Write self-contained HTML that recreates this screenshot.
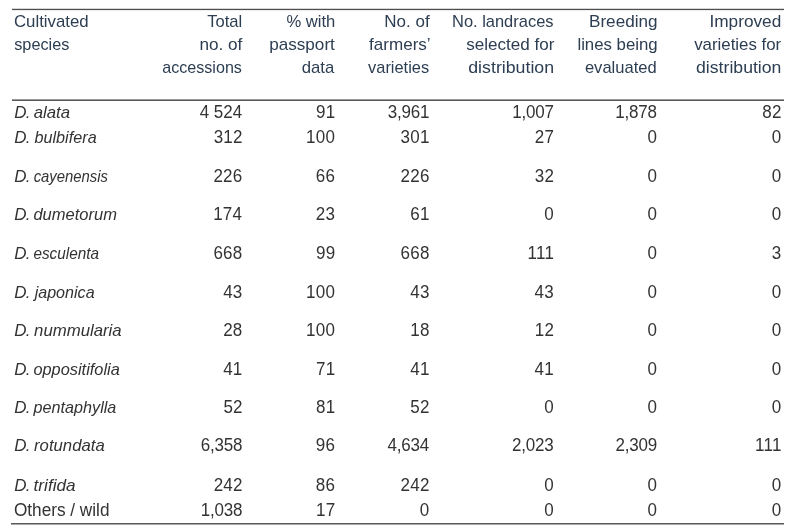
<!DOCTYPE html>
<html lang="en"><head><meta charset="utf-8"><title>Dioscorea accessions table</title>
<style>
html,body{margin:0;padding:0;background:#fff;}
body{width:800px;height:530px;position:relative;overflow:hidden;font-family:"Liberation Sans",sans-serif;font-size:17px;line-height:20px;color:#333;}
.ln{position:absolute;height:1px;}
table,thead,tbody,tr,th,td{display:block;margin:0;padding:0;border:0;font-weight:normal;}
.t{position:absolute;display:block;white-space:nowrap;height:20px;transform-origin:0 0;}
.s{display:inline-block;transform-origin:0 0;letter-spacing:0;}
.h{color:#2d3e52;font-size:17px;}
.i{font-style:italic;}
.n{font-size:17.5px;}

</style></head><body>
<div class="ln" style="top:8px;left:12px;width:772px;background:#d6d6d6"></div>
<div class="ln" style="top:9px;left:12px;width:772px;background:#4e4e4e"></div>
<div class="ln" style="top:10px;left:12px;width:772px;background:#ececec"></div>
<div class="ln" style="top:99px;left:12px;width:772px;background:#9a9a9a"></div>
<div class="ln" style="top:100px;left:12px;width:772px;background:#585858"></div>
<div class="ln" style="top:523px;left:11px;width:773px;background:#5a5a5a"></div>
<div class="ln" style="top:524px;left:11px;width:773px;background:#a8a8a8"></div>
<table>
<thead><tr>
<th><span class="t h" style="left:13px;top:12px;transform:translateX(0.95px) scaleX(0.9890)">Cultivated</span> <span class="t h" style="left:14px;top:35px;transform:translateX(0.20px) scaleX(0.9571)">species</span></th>
<th><span class="t h" style="left:207px;top:12px;transform:translateX(0.25px) scaleX(0.9752)">Total</span> <span class="t h" style="left:199px;top:35px;transform:translateX(0.40px) scaleX(1.0103)">no. of</span> <span class="t h" style="left:162px;top:58px;transform:translateX(0.25px) scaleX(0.9472)">accessions</span></th>
<th><span class="t h" style="left:286px;top:12px;transform:translateX(0.40px) scaleX(0.9774)">% with</span> <span class="t h" style="left:269px;top:35px;transform:translateX(0.20px) scaleX(1.0067)">passport</span> <span class="t h" style="left:301px;top:58px;transform:translateX(0.75px) scaleX(0.9824)">data</span></th>
<th><span class="t h" style="left:384px;top:12px;transform:translateX(0.30px) scaleX(0.9989)">No. of</span> <span class="t h" style="left:369px;top:35px;transform:translateX(0.05px) scaleX(1.0032)">farmers’</span> <span class="t h" style="left:368px;top:58px;transform:translateX(0.05px) scaleX(0.9652)">varieties</span></th>
<th><span class="t h" style="left:452px;top:12px;transform:translateX(0.00px) scaleX(0.9677)">No. landraces</span> <span class="t h" style="left:466px;top:35px;transform:translateX(0.25px) scaleX(1.0038)">selected for</span> <span class="t h" style="left:468px;top:58px;transform:translateX(0.25px) scaleX(1.0444)">distribution</span></th>
<th><span class="t h" style="left:589px;top:12px;transform:translateX(0.00px) scaleX(1.0073)">Breeding</span> <span class="t h" style="left:577px;top:35px;transform:translateX(0.40px) scaleX(0.9874)">lines being</span> <span class="t h" style="left:584px;top:58px;transform:translateX(0.90px) scaleX(0.9736)">evaluated</span></th>
<th><span class="t h" style="left:709px;top:12px;transform:translateX(0.40px) scaleX(1.0147)">Improved</span> <span class="t h" style="left:694px;top:35px;transform:translateX(0.15px) scaleX(0.9908)">varieties for</span> <span class="t h" style="left:696px;top:58px;transform:translateX(0.05px) scaleX(1.0385)">distribution</span></th>
</tr></thead>
<tbody>
<tr><td><span class="t i" style="left:14.15px;top:103px;letter-spacing:-0.600px">D. <span class="s" style="transform:translateX(-0.35px) scaleX(0.9882)">alata</span></span></td><td><span class="t n" style="left:199px;top:102px;transform:translateX(0.65px) scaleX(0.9710)">4 524</span></td><td><span class="t n" style="left:316px;top:102px;transform:translateX(0.10px) scaleX(0.9710);letter-spacing:0.278px">91</span></td><td><span class="t n" style="left:387px;top:102px;transform:translateX(0.80px) scaleX(0.9710);letter-spacing:-0.206px">3,961</span></td><td><span class="t n" style="left:512px;top:102px;transform:translateX(0.25px) scaleX(0.9710);letter-spacing:-0.206px">1,007</span></td><td><span class="t n" style="left:615px;top:102px;transform:translateX(0.20px) scaleX(0.9710);letter-spacing:-0.206px">1,878</span></td><td><span class="t n" style="left:762px;top:102px;transform:translateX(0.25px) scaleX(0.9710);letter-spacing:0.278px">82</span></td></tr>
<tr><td><span class="t i" style="left:14.15px;top:128px;letter-spacing:-0.600px">D. <span class="s" style="transform:translateX(0.45px) scaleX(0.9542)">bulbifera</span></span></td><td><span class="t n" style="left:213px;top:127px;transform:translateX(0.65px) scaleX(0.9710);letter-spacing:0.278px">312</span></td><td><span class="t n" style="left:306px;top:127px;transform:translateX(0.10px) scaleX(0.9710);letter-spacing:0.278px">100</span></td><td><span class="t n" style="left:400px;top:127px;transform:translateX(0.55px) scaleX(0.9710);letter-spacing:0.278px">301</span></td><td><span class="t n" style="left:534px;top:127px;transform:translateX(0.75px) scaleX(0.9710);letter-spacing:0.278px">27</span></td><td><span class="t n" style="left:647px;top:127px;transform:translateX(0.45px) scaleX(0.9710);letter-spacing:0.278px">0</span></td><td><span class="t n" style="left:771px;top:127px;transform:translateX(0.75px) scaleX(0.9710);letter-spacing:0.278px">0</span></td></tr>
<tr><td><span class="t i" style="left:14.15px;top:167px;letter-spacing:-0.600px">D. <span class="s" style="transform:translateX(-0.35px) scaleX(0.8745)">cayenensis</span></span></td><td><span class="t n" style="left:213px;top:166px;transform:translateX(0.40px) scaleX(0.9710);letter-spacing:0.278px">226</span></td><td><span class="t n" style="left:315px;top:166px;transform:translateX(0.85px) scaleX(0.9710);letter-spacing:0.278px">66</span></td><td><span class="t n" style="left:400px;top:166px;transform:translateX(0.55px) scaleX(0.9710);letter-spacing:0.278px">226</span></td><td><span class="t n" style="left:534px;top:166px;transform:translateX(0.75px) scaleX(0.9710);letter-spacing:0.278px">32</span></td><td><span class="t n" style="left:647px;top:166px;transform:translateX(0.45px) scaleX(0.9710);letter-spacing:0.278px">0</span></td><td><span class="t n" style="left:771px;top:166px;transform:translateX(0.75px) scaleX(0.9710);letter-spacing:0.278px">0</span></td></tr>
<tr><td><span class="t i" style="left:14.15px;top:205px;letter-spacing:-0.600px">D. <span class="s" style="transform:translateX(-0.60px) scaleX(0.9720)">dumetorum</span></span></td><td><span class="t n" style="left:213px;top:204px;transform:translateX(0.15px) scaleX(0.9710);letter-spacing:0.278px">174</span></td><td><span class="t n" style="left:315px;top:204px;transform:translateX(0.85px) scaleX(0.9710);letter-spacing:0.278px">23</span></td><td><span class="t n" style="left:410px;top:204px;transform:translateX(0.30px) scaleX(0.9710);letter-spacing:0.278px">61</span></td><td><span class="t n" style="left:544px;top:204px;transform:translateX(0.25px) scaleX(0.9710);letter-spacing:0.278px">0</span></td><td><span class="t n" style="left:647px;top:204px;transform:translateX(0.45px) scaleX(0.9710);letter-spacing:0.278px">0</span></td><td><span class="t n" style="left:771px;top:204px;transform:translateX(0.75px) scaleX(0.9710);letter-spacing:0.278px">0</span></td></tr>
<tr><td><span class="t i" style="left:14.15px;top:244px;letter-spacing:-0.600px">D. <span class="s" style="transform:translateX(-0.60px) scaleX(0.9017)">esculenta</span></span></td><td><span class="t n" style="left:213px;top:243px;transform:translateX(0.40px) scaleX(0.9710);letter-spacing:0.278px">668</span></td><td><span class="t n" style="left:316px;top:243px;transform:translateX(0.10px) scaleX(0.9710);letter-spacing:0.278px">99</span></td><td><span class="t n" style="left:400px;top:243px;transform:translateX(0.55px) scaleX(0.9710);letter-spacing:0.278px">668</span></td><td><span class="t n" style="left:527px;top:243px;transform:translateX(0.50px) scaleX(0.9710);letter-spacing:0.278px">111</span></td><td><span class="t n" style="left:647px;top:243px;transform:translateX(0.45px) scaleX(0.9710);letter-spacing:0.278px">0</span></td><td><span class="t n" style="left:771px;top:243px;transform:translateX(0.75px) scaleX(0.9710);letter-spacing:0.278px">3</span></td></tr>
<tr><td><span class="t i" style="left:14.15px;top:283px;letter-spacing:-0.600px">D. <span class="s" style="transform:translateX(0.65px) scaleX(0.9465)">japonica</span></span></td><td><span class="t n" style="left:223px;top:282px;transform:translateX(0.15px) scaleX(0.9710);letter-spacing:0.278px">43</span></td><td><span class="t n" style="left:306px;top:282px;transform:translateX(0.10px) scaleX(0.9710);letter-spacing:0.278px">100</span></td><td><span class="t n" style="left:410px;top:282px;transform:translateX(0.30px) scaleX(0.9710);letter-spacing:0.278px">43</span></td><td><span class="t n" style="left:534px;top:282px;transform:translateX(0.50px) scaleX(0.9710);letter-spacing:0.278px">43</span></td><td><span class="t n" style="left:647px;top:282px;transform:translateX(0.45px) scaleX(0.9710);letter-spacing:0.278px">0</span></td><td><span class="t n" style="left:771px;top:282px;transform:translateX(0.75px) scaleX(0.9710);letter-spacing:0.278px">0</span></td></tr>
<tr><td><span class="t i" style="left:14.15px;top:321px;letter-spacing:-0.600px">D. <span class="s" style="transform:translateX(0.05px) scaleX(0.9865)">nummularia</span></span></td><td><span class="t n" style="left:223px;top:320px;transform:translateX(0.15px) scaleX(0.9710);letter-spacing:0.278px">28</span></td><td><span class="t n" style="left:306px;top:320px;transform:translateX(0.10px) scaleX(0.9710);letter-spacing:0.278px">100</span></td><td><span class="t n" style="left:410px;top:320px;transform:translateX(0.30px) scaleX(0.9710);letter-spacing:0.278px">18</span></td><td><span class="t n" style="left:534px;top:320px;transform:translateX(0.75px) scaleX(0.9710);letter-spacing:0.278px">12</span></td><td><span class="t n" style="left:647px;top:320px;transform:translateX(0.45px) scaleX(0.9710);letter-spacing:0.278px">0</span></td><td><span class="t n" style="left:771px;top:320px;transform:translateX(0.75px) scaleX(0.9710);letter-spacing:0.278px">0</span></td></tr>
<tr><td><span class="t i" style="left:14.15px;top:360px;letter-spacing:-0.600px">D. <span class="s" style="transform:translateX(-0.60px) scaleX(0.9619)">oppositifolia</span></span></td><td><span class="t n" style="left:223px;top:359px;transform:translateX(0.15px) scaleX(0.9710);letter-spacing:0.278px">41</span></td><td><span class="t n" style="left:316px;top:359px;transform:translateX(0.10px) scaleX(0.9710);letter-spacing:0.278px">71</span></td><td><span class="t n" style="left:410px;top:359px;transform:translateX(0.30px) scaleX(0.9710);letter-spacing:0.278px">41</span></td><td><span class="t n" style="left:534px;top:359px;transform:translateX(0.50px) scaleX(0.9710);letter-spacing:0.278px">41</span></td><td><span class="t n" style="left:647px;top:359px;transform:translateX(0.45px) scaleX(0.9710);letter-spacing:0.278px">0</span></td><td><span class="t n" style="left:771px;top:359px;transform:translateX(0.75px) scaleX(0.9710);letter-spacing:0.278px">0</span></td></tr>
<tr><td><span class="t i" style="left:14.15px;top:398px;letter-spacing:-0.600px">D. <span class="s" style="transform:translateX(-0.45px) scaleX(0.9524)">pentaphylla</span></span></td><td><span class="t n" style="left:223px;top:397px;transform:translateX(0.40px) scaleX(0.9710);letter-spacing:0.278px">52</span></td><td><span class="t n" style="left:316px;top:397px;transform:translateX(0.10px) scaleX(0.9710);letter-spacing:0.278px">81</span></td><td><span class="t n" style="left:410px;top:397px;transform:translateX(0.30px) scaleX(0.9710);letter-spacing:0.278px">52</span></td><td><span class="t n" style="left:544px;top:397px;transform:translateX(0.25px) scaleX(0.9710);letter-spacing:0.278px">0</span></td><td><span class="t n" style="left:647px;top:397px;transform:translateX(0.45px) scaleX(0.9710);letter-spacing:0.278px">0</span></td><td><span class="t n" style="left:771px;top:397px;transform:translateX(0.75px) scaleX(0.9710);letter-spacing:0.278px">0</span></td></tr>
<tr><td><span class="t i" style="left:14.15px;top:436px;letter-spacing:-0.600px">D. <span class="s" style="transform:translateX(0.05px) scaleX(0.9833)">rotundata</span></span></td><td><span class="t n" style="left:200px;top:435px;transform:translateX(0.65px) scaleX(0.9710);letter-spacing:-0.206px">6,358</span></td><td><span class="t n" style="left:315px;top:435px;transform:translateX(0.85px) scaleX(0.9710);letter-spacing:0.278px">96</span></td><td><span class="t n" style="left:387px;top:435px;transform:translateX(0.55px) scaleX(0.9710);letter-spacing:-0.206px">4,634</span></td><td><span class="t n" style="left:512px;top:435px;transform:translateX(0.00px) scaleX(0.9710);letter-spacing:-0.206px">2,023</span></td><td><span class="t n" style="left:615px;top:435px;transform:translateX(0.45px) scaleX(0.9710);letter-spacing:-0.206px">2,309</span></td><td><span class="t n" style="left:755px;top:435px;transform:translateX(0.00px) scaleX(0.9710);letter-spacing:0.278px">111</span></td></tr>
<tr><td><span class="t i" style="left:14.15px;top:476px;letter-spacing:-0.600px">D. <span class="s" style="transform:translateX(-0.45px) scaleX(1.0119)">trifida</span></span></td><td><span class="t n" style="left:213px;top:475px;transform:translateX(0.65px) scaleX(0.9710);letter-spacing:0.278px">242</span></td><td><span class="t n" style="left:315px;top:475px;transform:translateX(0.85px) scaleX(0.9710);letter-spacing:0.278px">86</span></td><td><span class="t n" style="left:400px;top:475px;transform:translateX(0.55px) scaleX(0.9710);letter-spacing:0.278px">242</span></td><td><span class="t n" style="left:544px;top:475px;transform:translateX(0.25px) scaleX(0.9710);letter-spacing:0.278px">0</span></td><td><span class="t n" style="left:647px;top:475px;transform:translateX(0.45px) scaleX(0.9710);letter-spacing:0.278px">0</span></td><td><span class="t n" style="left:771px;top:475px;transform:translateX(0.75px) scaleX(0.9710);letter-spacing:0.278px">0</span></td></tr>
<tr><td><span class="t n" style="left:13px;top:500px;transform:translateX(0.90px) scaleX(0.9831)">Others / wild</span></td><td><span class="t n" style="left:200px;top:500px;transform:translateX(0.65px) scaleX(0.9710);letter-spacing:-0.206px">1,038</span></td><td><span class="t n" style="left:316px;top:500px;transform:translateX(0.10px) scaleX(0.9710);letter-spacing:0.278px">17</span></td><td><span class="t n" style="left:419px;top:500px;transform:translateX(0.80px) scaleX(0.9710);letter-spacing:0.278px">0</span></td><td><span class="t n" style="left:544px;top:500px;transform:translateX(0.25px) scaleX(0.9710);letter-spacing:0.278px">0</span></td><td><span class="t n" style="left:647px;top:500px;transform:translateX(0.45px) scaleX(0.9710);letter-spacing:0.278px">0</span></td><td><span class="t n" style="left:771px;top:500px;transform:translateX(0.75px) scaleX(0.9710);letter-spacing:0.278px">0</span></td></tr>
</tbody></table>
</body></html>
